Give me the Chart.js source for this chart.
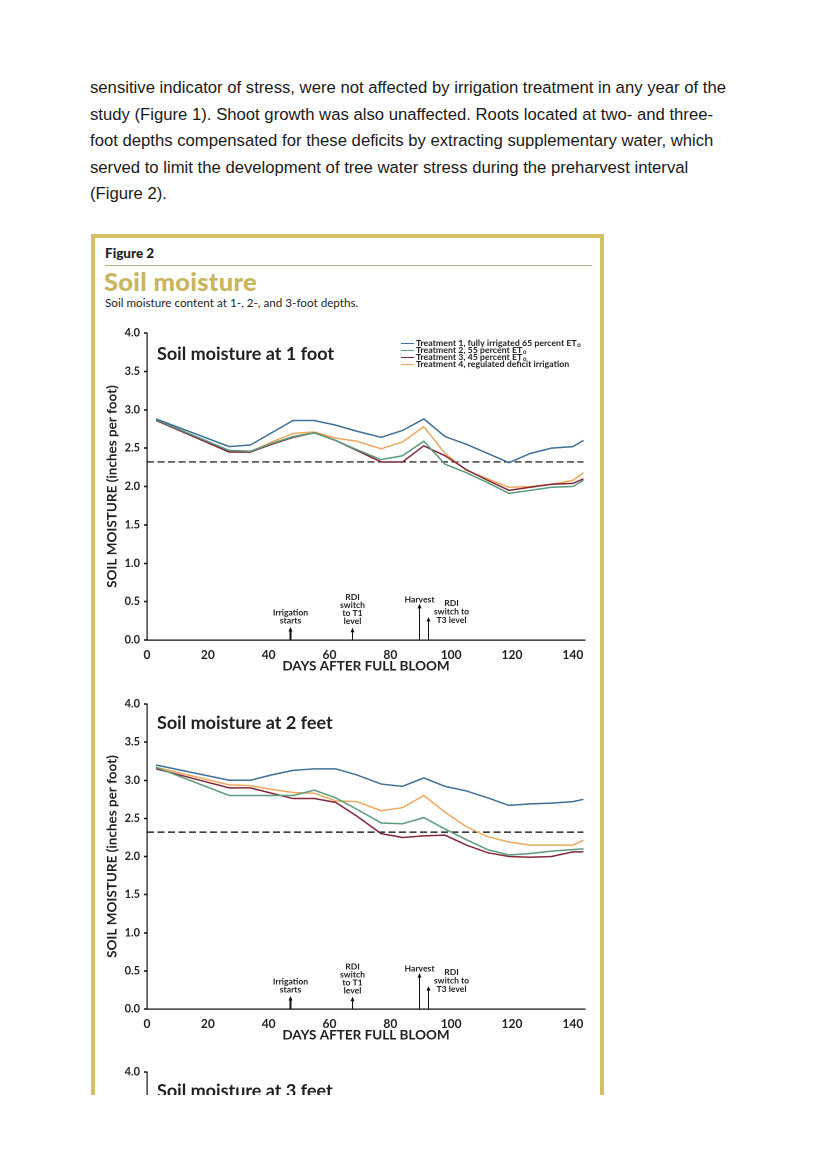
<!DOCTYPE html>
<html><head><meta charset="utf-8">
<script src="https://cdn.jsdelivr.net/npm/chart.js@4.4.1/dist/chart.umd.min.js"></script>
<style>
body{margin:0;background:#fff;}
#page{position:relative;width:827px;height:1169px;overflow:hidden;background:#fff;}
#para{position:absolute;left:90px;top:75px;font-family:"Liberation Sans",Arial,sans-serif;font-size:16.7px;line-height:26.6px;color:#1a1a1a;white-space:nowrap;}
#clip{position:absolute;left:0;top:0;width:827px;height:1095px;overflow:hidden;}
#fig{position:absolute;left:91px;top:234px;width:505px;height:900px;border:4px solid #d4c165;border-bottom:none;background:#fff;}
.t{position:absolute;font-family:Lato,"Noto Sans",sans-serif;color:#231f20;white-space:nowrap;}
#figlab{left:105px;top:245px;font-size:13.5px;font-weight:900;}
#rule{position:absolute;left:105px;top:265px;width:487px;height:1px;background:#b9ad80;}
#ttl{left:104px;top:266px;font-size:25.5px;font-weight:900;color:#c9b55c;letter-spacing:0.3px;}
#sub{left:105px;top:295px;font-size:11.7px;}
canvas{position:absolute;}
</style></head>
<body>
<div id="page">
<div id="para">sensitive indicator of stress, were not affected by irrigation treatment in any year of the<br>study (Figure 1). Shoot growth was also unaffected. Roots located at two- and three-<br>foot depths compensated for these deficits by extracting supplementary water, which<br>served to limit the development of tree water stress during the preharvest interval<br>(Figure 2).</div>
<div id="clip">
<div id="fig"></div>
<div class="t" id="figlab">Figure 2</div>
<div id="rule"></div>
<div class="t" id="ttl">Soil moisture</div>
<div class="t" id="sub">Soil moisture content at 1-, 2-, and 3-foot depths.</div>
<canvas id="c1" width="500" height="355" style="left:95px;top:320px;width:500px;height:355px"></canvas>
<canvas id="c2" width="500" height="353" style="left:95px;top:691px;width:500px;height:353px"></canvas>
<canvas id="c3" width="500" height="353" style="left:95px;top:1059px;width:500px;height:353px"></canvas>
</div>
</div>
<script>
// ---- data ----
const days = [3, 27, 34, 41, 48, 55, 62, 69, 77, 84, 91, 98, 105, 112, 119, 126, 133, 140, 143.5];
const seriesNames = ["Treatment 1, fully irrigated 65 percent ET", "Treatment 2, 55 percent ET", "Treatment 3, 45 percent ET", "Treatment 4, regulated deficit irrigation"];
const seriesSub = [true, true, true, false];
// 1 foot
const t1Foot1 = [2.88, 2.52, 2.54, 2.70, 2.86, 2.86, 2.80, 2.72, 2.64, 2.73, 2.88, 2.65, 2.55, 2.43, 2.31, 2.43, 2.50, 2.52, 2.60];
const t2Foot1 = [2.87, 2.47, 2.46, 2.56, 2.65, 2.70, 2.60, 2.48, 2.35, 2.40, 2.59, 2.29, 2.18, 2.05, 1.91, 1.95, 1.99, 2.00, 2.08];
const t3Foot1 = [2.86, 2.45, 2.45, 2.55, 2.64, 2.70, 2.60, 2.47, 2.32, 2.32, 2.53, 2.40, 2.22, 2.08, 1.95, 1.99, 2.03, 2.04, 2.10];
const t4Foot1 = [2.87, 2.45, 2.45, 2.58, 2.69, 2.71, 2.63, 2.59, 2.49, 2.58, 2.78, 2.43, 2.21, 2.10, 1.99, 2.00, 2.03, 2.08, 2.18];
// 2 feet
const t1Foot2 = [3.20, 3.00, 3.00, 3.07, 3.13, 3.15, 3.15, 3.07, 2.95, 2.92, 3.03, 2.92, 2.86, 2.77, 2.67, 2.69, 2.70, 2.72, 2.75];
const t2Foot2 = [3.17, 2.80, 2.80, 2.80, 2.80, 2.87, 2.77, 2.62, 2.44, 2.43, 2.51, 2.36, 2.22, 2.09, 2.02, 2.04, 2.07, 2.09, 2.10];
const t3Foot2 = [3.15, 2.90, 2.90, 2.83, 2.76, 2.76, 2.71, 2.53, 2.30, 2.25, 2.27, 2.28, 2.15, 2.05, 2.00, 1.99, 2.00, 2.06, 2.06];
const t4Foot2 = [3.17, 2.94, 2.93, 2.88, 2.84, 2.83, 2.73, 2.72, 2.60, 2.64, 2.80, 2.58, 2.39, 2.26, 2.19, 2.15, 2.15, 2.15, 2.21];
const thresholdValue = 2.32;
const thresholdDays = [0, 143.5];
const xTicks = [0, 20, 40, 60, 80, 100, 120, 140];
const yTicks = [0.0, 0.5, 1.0, 1.5, 2.0, 2.5, 3.0, 3.5, 4.0];
const annDays = [47, 67.5, 89.5, 92.5];
const annHeights = [0.17, 0.16, 0.47, 0.30];
const annTexts = [["Irrigation", "starts"], ["RDI", "switch", "to T1", "level"], ["Harvest"], ["RDI", "switch to", "T3 level"]];
const panelTitles = ["Soil moisture at 1 foot", "Soil moisture at 2 feet", "Soil moisture at 3 feet"];

// ---- styles ----
const colors = ["#3f6f98", "#5a9c7c", "#83283a", "#eda85e"];
const annPlacement = ["above", "above", "above", "right"];
const annWidths = [2, 1, 1, 1];
const FONT = "Lato, 'Noto Sans', sans-serif";

function pts(v){ return days.map((d,i)=>({x:d,y:v[i]})); }

const overlay = {
  id: 'overlay',
  afterDraw(chart, args, opts) {
    const {ctx, chartArea: ca, scales: {x, y}} = chart;
    ctx.save();
    ctx.fillStyle = '#231f20';
    ctx.textBaseline = 'middle';
    ctx.textAlign = 'left';
    ctx.font = "bold 18px " + FONT;
    ctx.fillText(opts.title, ca.left + 10, ca.top + opts.titleDy);
    // annotations
    if (opts.annotations) {
      const y0 = y.getPixelForValue(0);
      annDays.forEach((d, i) => {
        const px = Math.round(x.getPixelForValue(d)) + 0.5;
        const top = y.getPixelForValue(annHeights[i]);
        ctx.strokeStyle = '#111';
        ctx.fillStyle = '#111';
        ctx.lineWidth = annWidths[i];
        ctx.beginPath(); ctx.moveTo(px, y0); ctx.lineTo(px, top + 3); ctx.stroke();
        ctx.beginPath(); ctx.moveTo(px, top); ctx.lineTo(px - 2, top + 4.5); ctx.lineTo(px + 2, top + 4.5); ctx.closePath(); ctx.fill();
        ctx.font = "bold 8.6px " + FONT;
        ctx.fillStyle = '#231f20';
        ctx.textAlign = 'center';
        ctx.textBaseline = 'alphabetic';
        const lines = annTexts[i];
        if (annPlacement[i] === 'above') {
          const gap = lines.length === 1 ? 1.5 : 3.5;
          lines.forEach((s, k) => {
            ctx.fillText(s, px, top - gap - (lines.length - 1 - k) * 8);
          });
        } else {
          lines.forEach((s, k) => {
            ctx.fillText(s, px + 23, top - 11 + k * 8.5);
          });
        }
      });
    }
    // legend
    if (opts.legend) {
      ctx.textAlign = 'left';
      ctx.textBaseline = 'middle';
      seriesNames.forEach((name, i) => {
        const ly = ca.top + 10 + i * 7;
        ctx.strokeStyle = colors[i];
        ctx.lineWidth = 1;
        ctx.beginPath(); ctx.moveTo(ca.left + 254, ly + 0.5); ctx.lineTo(ca.left + 267, ly + 0.5); ctx.stroke();
        ctx.fillStyle = '#231f20';
        ctx.font = "bold 8.8px " + FONT;
        ctx.fillText(name, ca.left + 269, ly);
        if (seriesSub[i]) {
          const w = ctx.measureText(name).width;
          ctx.font = "bold 6.2px " + FONT;
          ctx.fillText("o", ca.left + 269 + w + 0.6, ly + 2);
        }
      });
    }
    ctx.restore();
  }
};

function makeChart(id, series, idx, withData) {
  const datasets = [];
  if (withData) {
    series.forEach((s, i) => datasets.push({
      data: pts(s), borderColor: colors[i], borderWidth: 1.5, pointRadius: 0, tension: 0, fill: false
    }));
    datasets.push({
      data: thresholdDays.map(d => ({x: d, y: thresholdValue})),
      borderColor: '#000', borderWidth: 1.2, borderDash: [7, 3.5], pointRadius: 0
    });
  }
  return new Chart(document.getElementById(id), {
    type: 'line',
    data: {datasets},
    options: {
      responsive: false, animation: false, devicePixelRatio: 2,
      layout: {padding: {left: 0, right: 10, top: 13, bottom: 0}},
      plugins: {
        legend: {display: false}, tooltip: {enabled: false},
        overlay: {title: panelTitles[idx], titleDy: idx === 0 ? 21 : 19, annotations: withData, legend: idx === 0}
      },
      scales: {
        x: {
          type: 'linear', min: 0, max: 144,
          afterBuildTicks: s => { s.ticks = xTicks.map(v => ({value: v})); },
          afterFit: s => { s.height = 35; },
          grid: {display: false},
          border: {display: true, color: '#111', width: 1.2},
          ticks: {includeBounds: false, padding: 0, color: '#231f20', font: {family: FONT, size: 12, weight: 'bold'}, callback: v => String(v)},
          title: {display: true, text: 'DAYS AFTER FULL BLOOM', color: '#231f20', font: {family: FONT, size: 13.5, weight: 'bold'}, padding: {top: 0, bottom: 1}}
        },
        y: {
          min: 0, max: 4,
          afterBuildTicks: s => { s.ticks = yTicks.map(v => ({value: v})); },
          afterFit: s => { s.width = 52; },
          grid: {display: true, drawOnChartArea: false, drawTicks: true, tickLength: 3, color: '#111', tickWidth: 1.5},
          border: {display: true, color: '#111', width: 1.2},
          ticks: {padding: 4, color: '#231f20', font: {family: FONT, size: 11, weight: 'bold'}, callback: v => Number(v).toFixed(1)},
          title: {display: true, text: 'SOIL MOISTURE (inches per foot)', color: '#231f20', font: {family: FONT, size: 13.5, weight: 'bold'}, padding: {top: 9, bottom: 0}}
        }
      }
    },
    plugins: [overlay]
  });
}

function go() {
  makeChart('c1', [t1Foot1, t2Foot1, t3Foot1, t4Foot1], 0, true);
  makeChart('c2', [t1Foot2, t2Foot2, t3Foot2, t4Foot2], 1, true);
  makeChart('c3', [], 2, false);
}
if (document.fonts && document.fonts.load) {
  Promise.all([document.fonts.load("bold 12px Lato"), document.fonts.load("900 12px Lato"), document.fonts.load("12px Lato")]).then(go, go);
} else go();
</script>
</body></html>
